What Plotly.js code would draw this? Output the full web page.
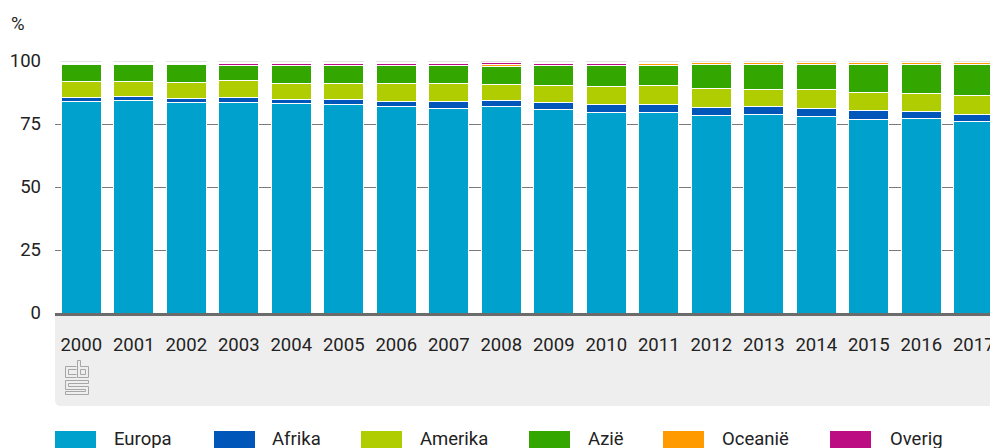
<!DOCTYPE html>
<html>
<head>
<meta charset="utf-8">
<script src="https://cdn.plot.ly/plotly-3.0.1.min.js"></script>
<style>
html,body{margin:0;padding:0;overflow:hidden;background:#fff;}
#chart{width:1000px;height:448px;}
</style>
</head>
<body>
<div id="chart"></div>
<script>
// ---- data ----
const years = ['2000','2001','2002','2003','2004','2005','2006','2007','2008','2009','2010','2011','2012','2013','2014','2015','2016','2017'];
const europa  = [83.9,84.4,83.6,83.5,83.1,82.8,82.0,81.3,81.9,80.8,79.6,79.6,78.2,78.6,78.0,76.9,77.2,76.1];
const afrika  = [1.5,1.4,1.5,1.9,1.7,2.1,2.1,2.6,2.5,2.7,3.2,3.2,3.4,3.4,3.3,3.4,2.7,2.7];
const amerika = [6.4,6.0,6.4,6.7,6.3,6.2,6.9,7.1,6.2,6.8,7.1,7.4,7.6,6.8,7.5,7.4,7.4,7.4];
const azie    = [6.7,6.7,7.0,6.0,7.0,7.0,7.1,7.1,7.2,7.8,8.2,7.9,9.5,9.9,9.9,11.0,11.4,12.5];
const oceanie = [0,0,0,0.3,0.3,0.3,0.3,0.3,0.7,0.3,0.3,0.8,0.6,0.6,0.6,0.6,0.6,0.6];
const overig  = [0,0,0,0.8,0.8,0.8,0.8,0.8,0.8,0.8,0.8,0,0,0,0,0,0,0];
const seriesNames = ['Europa','Afrika','Amerika','Azië','Oceanië','Overig'];
const seriesValues = [europa, afrika, amerika, azie, oceanie, overig];
const seriesColors = ['#00a1cd','#0056b9','#afcd00','#33a600','#ff9a00','#bd0d82'];
const yTicks = [0,25,50,75,100];

// ---- geometry helpers (pixel -> paper) ----
const FIG_W = 1000, FIG_H = 448;
const L = 55, T = 61, R = 0;
const PW = FIG_W - L - R, PH = 252;
const B = FIG_H - T - PH;
const px = x => (x - L) / PW;
const py = y => (T + PH - y) / PH;

const FONT = 'Roboto, "Open Sans", "DejaVu Sans", sans-serif';
const TXT = '#222222';

const traces = seriesNames.map((n, k) => ({
  type: 'bar',
  name: n,
  x: years,
  y: seriesValues[k],
  marker: {color: seriesColors[k], line: {color: '#ffffff', width: 1}},
  hoverinfo: 'x+y+name'
}));

const shapes = [];
// gray band below the axis
shapes.push({
  type: 'path', xref: 'paper', yref: 'paper', layer: 'below',
  path: `M ${px(55)},${py(315)} L ${px(1000)},${py(315)} L ${px(1000)},${py(406)} L ${px(61)},${py(406)} Q ${px(55)},${py(406)} ${px(55)},${py(400)} Z`,
  fillcolor: '#eeeeee', line: {width: 0}
});
// light line at 100 over bar tops
years.forEach((yr, i) => {
  shapes.push({type: 'line', xref: 'x', yref: 'y', layer: 'above',
    x0: i - 0.39, x1: i + 0.39, y0: 100, y1: 100,
    line: {color: '#e3e3e3', width: 2}});
});
// cbs logo (outline strokes)
const logoPaths = [
  'M 76.5,366.5 L 65.5,366.5 L 65.5,377.5 L 76.5,377.5',
  'M 76.5,369.5 L 68.5,369.5 L 68.5,374.5 L 76.5,374.5',
  'M 77.5,360.5 L 77.5,377.5 L 88.5,377.5 L 88.5,366.5 L 80.5,366.5 L 80.5,360.5 Z',
  'M 80.5,369.5 L 85.5,369.5 L 85.5,374.5 L 80.5,374.5 Z',
  'M 88.5,380.5 L 65.5,380.5 L 65.5,389.5 L 85.5,389.5 L 85.5,391.5 L 65.5,391.5 L 65.5,394.5 L 88.5,394.5 L 88.5,386.5 L 68.5,386.5 L 68.5,383.5 L 88.5,383.5 Z'
];
logoPaths.forEach(p => {
  const conv = p.replace(/(\d+(?:\.\d+)?),(\d+(?:\.\d+)?)/g, (m, a, b) => `${px(+a)},${py(+b)}`);
  shapes.push({type: 'path', xref: 'paper', yref: 'paper', layer: 'above',
    path: conv, line: {color: '#a6a6a6', width: 1}, fillcolor: 'rgba(0,0,0,0)'});
});

// custom legend
const legendRectX = [55, 214, 361, 529, 663, 830];
const legendTextX = [112, 270, 418, 586, 720, 888];
const annotations = [];
seriesNames.forEach((n, k) => {
  shapes.push({type: 'rect', xref: 'paper', yref: 'paper', layer: 'above',
    x0: px(legendRectX[k]), x1: px(legendRectX[k] + 41), y0: py(431), y1: py(460),
    fillcolor: seriesColors[k], line: {width: 0}});
  annotations.push({xref: 'paper', yref: 'paper', x: px(legendTextX[k]), y: py(426),
    xanchor: 'left', yanchor: 'top', showarrow: false, text: n,
    font: {family: FONT, size: 18.5, color: TXT}});
});
// unit label
annotations.push({xref: 'paper', yref: 'paper', x: px(9), y: py(24),
  xanchor: 'left', yanchor: 'middle', showarrow: false, text: '%',
  font: {family: FONT, size: 18.5, color: TXT}});

const layout = {
  width: FIG_W, height: FIG_H,
  margin: {l: L, r: R, t: T, b: B, pad: 0},
  paper_bgcolor: '#ffffff', plot_bgcolor: '#ffffff',
  barmode: 'stack', bargap: 0.24,
  showlegend: false,
  font: {family: FONT, size: 18.5, color: TXT},
  xaxis: {
    type: 'category', range: [-0.5, 17.5], fixedrange: true,
    showgrid: false, zeroline: false, ticks: '',
    showline: true, linecolor: '#6b6b6b', linewidth: 3,
    tickfont: {family: FONT, size: 18.5, color: TXT},
    ticklabelstandoff: 13
  },
  yaxis: {
    range: [0, 100], fixedrange: true, tickvals: yTicks, ticktext: yTicks.map(String),
    showgrid: true, gridcolor: '#7a7a7a', gridwidth: 1,
    zeroline: false, showline: false, ticks: '',
    tickfont: {family: FONT, size: 18.5, color: TXT},
    ticklabelstandoff: 13
  },
  shapes: shapes,
  annotations: annotations
};

Plotly.newPlot('chart', traces, layout, {displayModeBar: false, staticPlot: true});
</script>
</body>
</html>
